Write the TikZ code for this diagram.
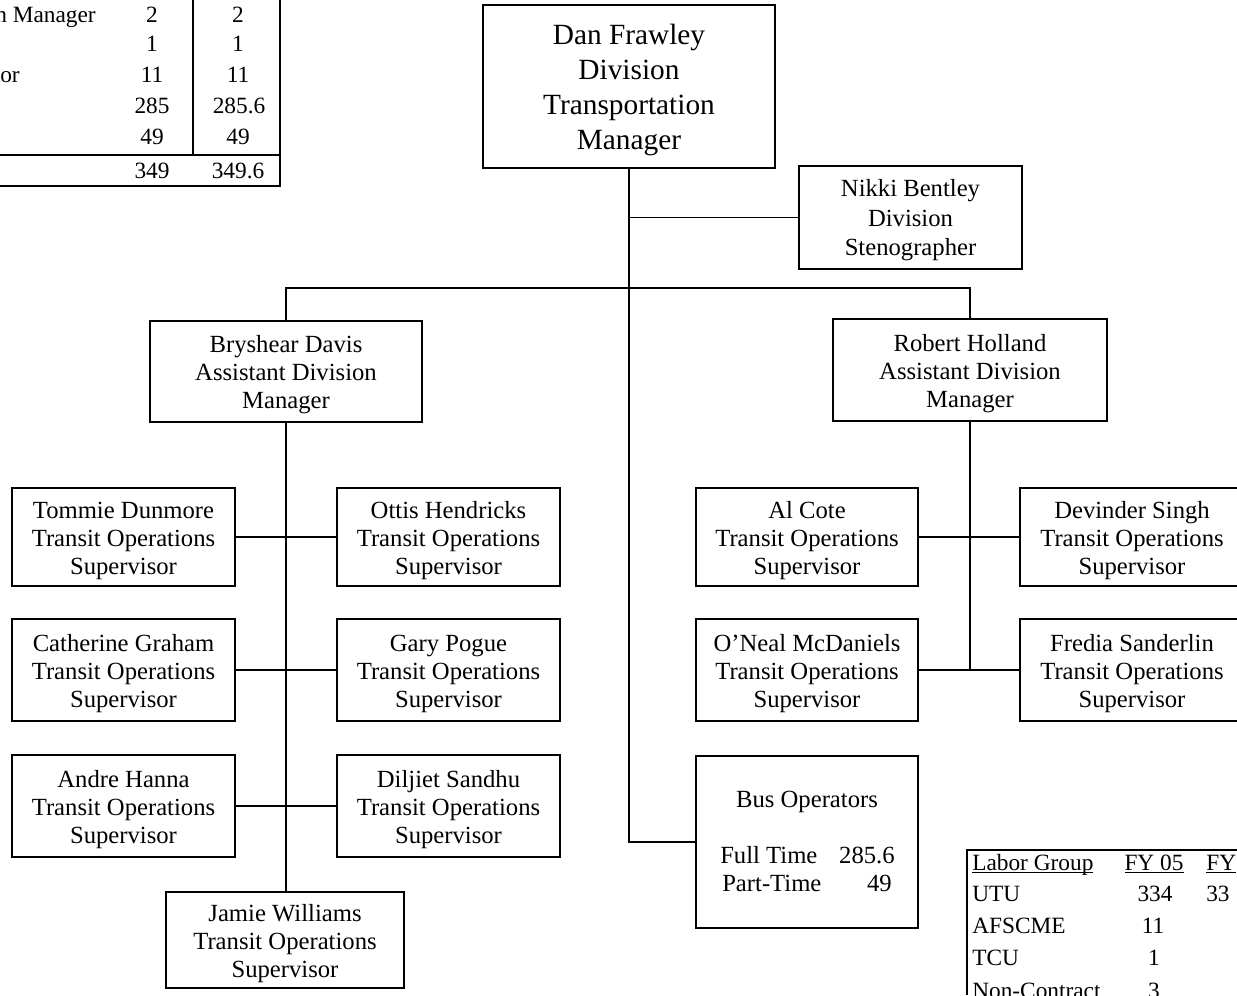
\documentclass[tikz,border=0pt]{standalone}
\usepackage{fontspec}
\setmainfont{Liberation Serif}
\newcommand{\ul}[1]{\underline{\smash{#1}}}
\newcommand{\topstrut}[1]{\rule{0pt}{#1}}
\begin{document}
\begin{tikzpicture}[x=0.75pt,y=-0.75pt,
  box/.style={draw,line width=1.2pt,align=center,inner sep=0pt,font=\fontsize{18.5pt}{21pt}\selectfont},
  sup/.style={box,minimum width=167.25pt,minimum height=76.5pt},
  wire/.style={line width=1.2pt},
  txt/.style={inner sep=0pt,font=\fontsize{17.5pt}{21pt}\selectfont,anchor=base},
  txtl/.style={txt,anchor=base west},
  txtr/.style={txt,anchor=base east}]
\useasboundingbox (0,0) rectangle (1237,995);
\clip (0,0) rectangle (1237,995);

% main boxes
\node[box,minimum width=219pt,minimum height=122.25pt,font=\fontsize{22pt}{26.25pt}\selectfont] (dan) at (629,86.5) {\topstrut{21pt}Dan Frawley\\Division\\Transportation\\Manager};
\node[box,minimum width=167.25pt,minimum height=77.25pt,font=\fontsize{18.5pt}{22pt}\selectfont] (nikki) at (910.5,217.5) {\topstrut{17pt}Nikki Bentley\\Division\\Stenographer};
\node[box,minimum width=204pt,minimum height=75.75pt] (bry) at (286,371.5) {\topstrut{18pt}Bryshear Davis\\Assistant Division\\Manager};
\node[box,minimum width=205.5pt,minimum height=76.5pt] (rob) at (970,370) {\topstrut{18pt}Robert Holland\\Assistant Division\\Manager};

% left supervisors
\node[sup,minimum height=73.5pt] (tommie) at (123.5,537) {\topstrut{18pt}Tommie Dunmore\\Transit Operations\\Supervisor};
\node[sup,minimum height=73.5pt] (ottis) at (448.5,537) {\topstrut{18pt}Ottis Hendricks\\Transit Operations\\Supervisor};
\node[sup] (cath) at (123.5,670) {\topstrut{18pt}Catherine Graham\\Transit Operations\\Supervisor};
\node[sup] (gary) at (448.5,670) {\topstrut{18pt}Gary Pogue\\Transit Operations\\Supervisor};
\node[sup] (andre) at (123.5,806) {\topstrut{18pt}Andre Hanna\\Transit Operations\\Supervisor};
\node[sup] (dil) at (448.5,806) {\topstrut{18pt}Diljiet Sandhu\\Transit Operations\\Supervisor};
\node[box,minimum width=178.5pt,minimum height=72pt] (jamie) at (285,940) {\topstrut{18pt}Jamie Williams\\Transit Operations\\Supervisor};

% right supervisors
\node[sup,minimum width=166.5pt,minimum height=73.5pt] (al) at (807,537) {\topstrut{18pt}Al Cote\\Transit Operations\\Supervisor};
\node[sup,minimum width=168pt,minimum height=73.5pt] (dev) at (1132,537) {\topstrut{18pt}Devinder Singh\\Transit Operations\\Supervisor};
\node[sup,minimum width=166.5pt] (oneal) at (807,670) {\topstrut{18pt}O'Neal McDaniels\\Transit Operations\\Supervisor};
\node[sup,minimum width=168pt] (fredia) at (1132,670) {\topstrut{18pt}Fredia Sanderlin\\Transit Operations\\Supervisor};

% bus operators
\node[box,minimum width=166.5pt,minimum height=129pt] (bus) at (807,842) {};
\node[txt,font=\fontsize{18.5pt}{21pt}\selectfont] (busT) at (807,807) {Bus Operators};
\node[txtl,font=\fontsize{18.5pt}{21pt}\selectfont] (busF) at (720,863) {Full Time};
\node[txtr,font=\fontsize{18.5pt}{21pt}\selectfont] (busFn) at (895,863) {285.6};
\node[txtl,font=\fontsize{18.5pt}{21pt}\selectfont] (busP) at (722,891) {Part-Time};
\node[txtr,font=\fontsize{18.5pt}{21pt}\selectfont] (busPn) at (892,891) {49};

% connectors
\coordinate (bar) at (629,288);
\draw[wire] (dan.south) |- (bus.west);
\draw[wire] (nikki.west) -- (nikki.west -| dan.south);
\draw[wire] (bry.north) -- (bry.north |- bar) -- (rob.north |- bar) -- (rob.north);
\draw[wire] (bry.south) -- (bry.south |- jamie.north);
\draw[wire] (tommie.east) -- (ottis.west);
\draw[wire] (cath.east) -- (gary.west);
\draw[wire] (andre.east) -- (dil.west);
\draw[wire] (rob.south) -- (rob.south |- fredia.west);
\draw[wire] (al.east) -- (dev.west);
\draw[wire] (oneal.east) -- (fredia.west);

% top-left table
\draw[wire] (193,0) -- (193,155);
\draw[line width=1.8pt] (0,155) -- (280,155);
\draw[wire] (0,186) -- (280,186) -- (280,0);
\node[txtl] (t1a) at (-5,23) {n Manager};
\node[txt] (t1b) at (152,23) {2};
\node[txt] (t1c) at (238,23) {2};
\node[txt] (t2b) at (152,52) {1};
\node[txt] (t2c) at (238,52) {1};
\node[txtl] (t3a) at (0,83) {or};
\node[txt] (t3b) at (152,83) {11};
\node[txt] (t3c) at (238,83) {11};
\node[txt] (t4b) at (152,114) {285};
\node[txt] (t4c) at (239,114) {285.6};
\node[txt] (t5b) at (152,145) {49};
\node[txt] (t5c) at (238,145) {49};
\node[txt] (t6b) at (152,178) {349};
\node[txt] (t6c) at (238,178) {349.6};

% bottom-right table
\draw[wire] (967,995) -- (967,850) -- (1237,850);
\node[txtl] (lg) at (972,870) {\ul{Labor Group}};
\node[txt] (fy5) at (1154,870) {\ul{FY 05}};
\node[txtl] (fy6) at (1206,870) {\ul{FY}};
\node[txtl] (utu) at (972,901) {UTU};
\node[txt] (utu5) at (1155,901) {334};
\node[txtl] (utu6) at (1206,901) {33};
\node[txtl] (afs) at (972,933) {AFSCME};
\node[txt] (afs5) at (1153,933) {11};
\node[txtl] (tcu) at (972,965) {TCU};
\node[txt] (tcu5) at (1154,965) {1};
\node[txtl] (nc) at (972,998) {Non-Contract};
\node[txt] (nc5) at (1154,998) {3};
\end{tikzpicture}
\end{document}
